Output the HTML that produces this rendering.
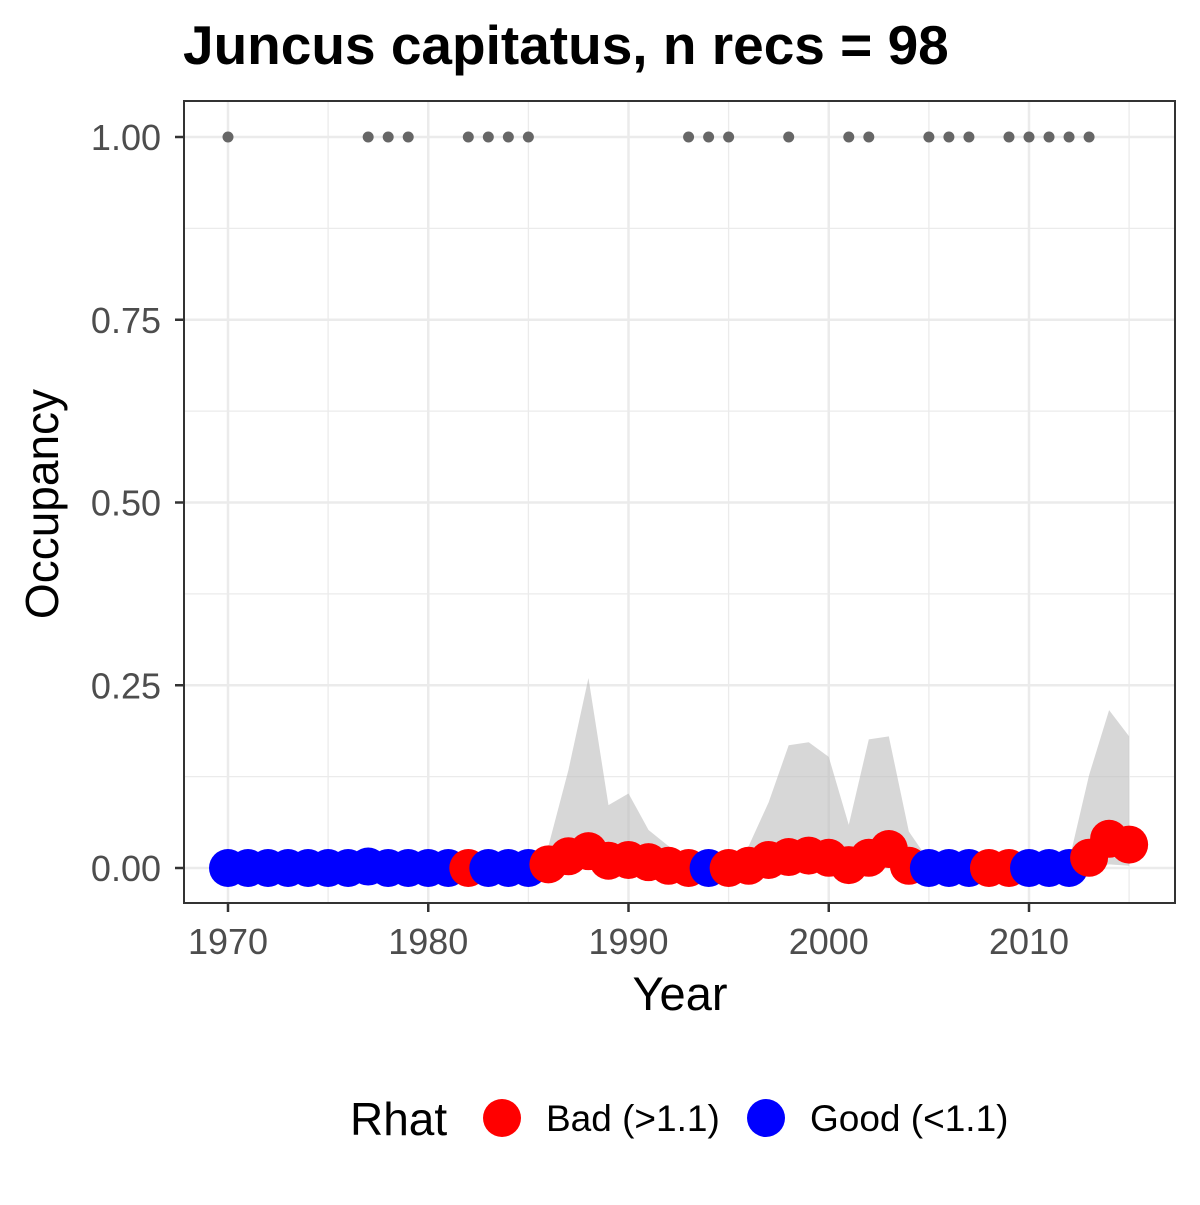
<!DOCTYPE html>
<html><head><meta charset="utf-8"><style>
body{margin:0;background:#fff}
svg text{font-family:"Liberation Sans",Arial,sans-serif}
</style></head><body>
<svg id="chart" width="1200" height="1200" xmlns="http://www.w3.org/2000/svg">
<text x="183" y="64" font-size="55" font-weight="bold" fill="#000">Juncus capitatus, n recs = 98</text>
<g id="grid"></g>
<g id="ribbon"></g>
<g id="dots"></g>
<g id="points"></g>
<rect x="184" y="101" width="991" height="802" fill="none" stroke="#333" stroke-width="2"/>
<g id="axes"></g>
<text x="680" y="1010" font-size="47" text-anchor="middle" fill="#000">Year</text>
<text transform="translate(58,504) rotate(-90)" font-size="46" text-anchor="middle" fill="#000">Occupancy</text>
<g>
<text x="350" y="1135" font-size="46" fill="#000">Rhat</text>
<circle cx="502" cy="1118" r="19" fill="#ff0000"/>
<text x="546" y="1131" font-size="37" fill="#000">Bad (&gt;1.1)</text>
<circle cx="766" cy="1118" r="19" fill="#0000ff"/>
<text x="810" y="1131" font-size="37" fill="#000">Good (&lt;1.1)</text>
</g>
</svg>
<script>
const years=[];for(let y=1970;y<=2015;y++)years.push(y);
const meanOcc=[0,0,0,0,0,0,0,0.002,0,0,0,0,0,0,0,0,0.005,0.016,0.023,0.01,0.011,0.008,0.003,0,0,0,0.003,0.011,0.015,0.017,0.014,0.004,0.014,0.026,0.003,0,0,0,0,0,0,0,0,0.014,0.04,0.032];
const upperCI=[0,0,0,0,0,0,0,0,0,0,0,0,0,0,0,0,0.03,0.134,0.26,0.086,0.102,0.052,0.03,0.01,0.01,0.01,0.03,0.09,0.168,0.172,0.152,0.059,0.176,0.18,0.05,0.01,0.01,0.01,0.01,0.01,0.01,0.01,0.01,0.127,0.216,0.18];
const lowerCI=[0,0,0,0,0,0,0,0,0,0,0,0,0,0,0,0,0,0,0,0,0,0,0,0,0,0,0,0,0,0,0,0,0,0,0,0,0,0,0,0,0,0,0,0,0.005,0.003];
const rhatBad=[0,0,0,0,0,0,0,0,0,0,0,0,1,0,0,0,1,1,1,1,1,1,1,1,0,1,1,1,1,1,1,1,1,1,1,0,0,0,1,1,0,0,0,1,1,1];
const detectionYears=[1970,1977,1978,1979,1982,1983,1984,1985,1993,1994,1995,1998,2001,2002,2005,2006,2007,2009,2010,2011,2012,2013];
const xTicks=[1970,1980,1990,2000,2010];
const yTicks=[0,0.25,0.5,0.75,1];
const yTickLabels=["0.00","0.25","0.50","0.75","1.00"];
const NS="http://www.w3.org/2000/svg";
const X=y=>228+(y-1970)*20.025;
const Y=v=>868-v*731;
function mk(tag,attrs,parent){const e=document.createElementNS(NS,tag);for(const k in attrs)e.setAttribute(k,attrs[k]);document.getElementById(parent).appendChild(e);return e;}
for(const t of yTicks){const l=mk('line',{x1:184,x2:1175,y1:Y(t),y2:Y(t),stroke:'#ebebeb','stroke-width':2.5},'grid');

}
for(let i=0;i<yTicks.length-1;i++){const m=(yTicks[i]+yTicks[i+1])/2;const l=mk('line',{x1:184,x2:1175,y1:Y(m),y2:Y(m),stroke:'#ebebeb','stroke-width':1.3},'grid');

}
for(const t of xTicks){const l=mk('line',{y1:101,y2:903,x1:X(t),x2:X(t),stroke:'#ebebeb','stroke-width':2.5},'grid');

}
for(const t of [1975,1985,1995,2005,2015]){const l=mk('line',{y1:101,y2:903,x1:X(t),x2:X(t),stroke:'#ebebeb','stroke-width':1.3},'grid');

}
let d='';years.forEach((y,i)=>{d+=(i?'L':'M')+X(y)+','+Y(upperCI[i]);});
for(let i=years.length-1;i>=0;i--)d+='L'+X(years[i])+','+Y(lowerCI[i]);
const rb=mk('path',{d:d+'Z',fill:'#bdbdbd','fill-opacity':0.6},'ribbon');


for(const y of detectionYears){const c=mk('circle',{cx:X(y),cy:Y(1),r:5.5,fill:'#666'},'dots');

}
years.forEach((y,i)=>{const c=mk('circle',{cx:X(y),cy:Y(meanOcc[i]),r:19,fill:rhatBad[i]?'#ff0000':'#0000ff'},'points');

});
for(const t of xTicks){const l=mk('line',{x1:X(t),x2:X(t),y1:903,y2:912,stroke:'#333','stroke-width':2.5},'axes');


const tx=mk('text',{x:X(t),y:954,'font-size':36,'text-anchor':'middle',fill:'#4d4d4d'},'axes');tx.textContent=t;

}
yTicks.forEach((t,i)=>{const l=mk('line',{x1:175,x2:184,y1:Y(t),y2:Y(t),stroke:'#333','stroke-width':2.5},'axes');


const tx=mk('text',{x:161,y:Y(t)+13,'font-size':36,'text-anchor':'end',fill:'#4d4d4d'},'axes');tx.textContent=yTickLabels[i];

});
</script>
</body></html>
